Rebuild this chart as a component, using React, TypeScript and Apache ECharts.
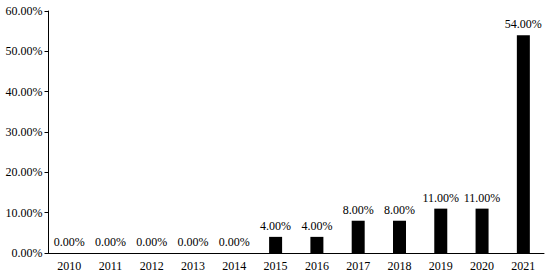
import React, { useEffect, useRef } from "react";
import * as echarts from "echarts";

const years = ["2010", "2011", "2012", "2013", "2014", "2015", "2016", "2017", "2018", "2019", "2020", "2021"];
const shares = [0, 0, 0, 0, 0, 4, 4, 8, 8, 11, 11, 54];
const yMax = 60;
const yStep = 10;

export default function App() {
  const ref = useRef<HTMLDivElement>(null);
  useEffect(() => {
    if (!ref.current) return;
    const chart = echarts.init(ref.current, null, { renderer: "svg" });
    const font = "'Liberation Serif', 'Times New Roman', serif";
    chart.setOption({
      animation: false,
      grid: { left: 48.5, right: 6, top: 11, bottom: 25, containLabel: false },
      xAxis: {
        type: "category",
        data: years,
        axisLine: { lineStyle: { color: "#000", width: 1 } },
        axisTick: { alignWithLabel: true, length: 4, lineStyle: { color: "#000" } },
        axisLabel: { color: "#000", fontFamily: font, fontSize: 12, margin: 7 },
      },
      yAxis: {
        type: "value",
        min: 0,
        max: yMax,
        interval: yStep,
        splitLine: { show: false },
        axisLine: { show: true, lineStyle: { color: "#000", width: 1 } },
        axisTick: { show: true, length: 4, lineStyle: { color: "#000" } },
        axisLabel: {
          color: "#000",
          fontFamily: font,
          fontSize: 12,
          margin: 6,
          formatter: (v: number) => v.toFixed(2) + "%",
        },
      },
      series: [
        {
          type: "bar",
          data: shares,
          barWidth: 13,
          itemStyle: { color: "#000" },
          label: {
            show: true,
            position: "top",
            distance: 5,
            color: "#000",
            fontFamily: font,
            fontSize: 12,
            formatter: (p: any) => Number(p.value).toFixed(2) + "%",
          },
        },
      ],
    });
    return () => chart.dispose();
  }, []);
  return <div ref={ref} style={{ width: 550, height: 278, position: "absolute", left: 0, top: 0 }} />;
}
